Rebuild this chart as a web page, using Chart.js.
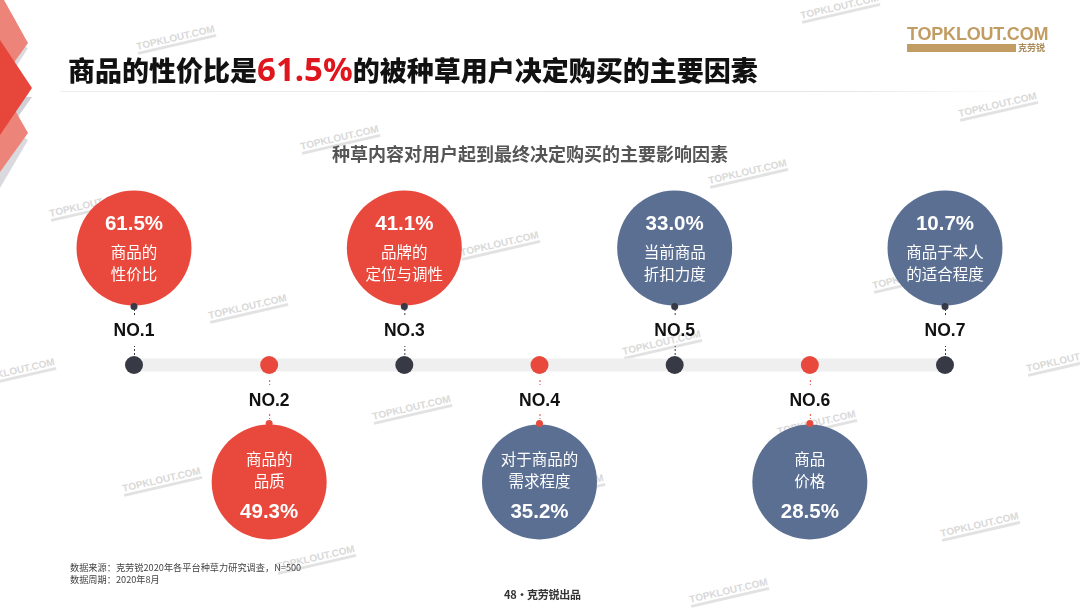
<!DOCTYPE html>
<html lang="zh-CN">
<head>
<meta charset="UTF-8">
<title>种草内容对用户起到最终决定购买的主要影响因素</title>
<script src="https://cdn.jsdelivr.net/npm/chart.js"></script>
<style>
  html, body { margin: 0; padding: 0; background: #fff; }
  #page { position: relative; width: 1080px; height: 608px; overflow: hidden; font-family: "Noto Sans CJK SC", sans-serif; }
  #page canvas { position: absolute; left: 0; top: 0; }
  #deco { position: absolute; left: 0; top: 0; }
  .abs { position: absolute; white-space: nowrap; }
  #title { left: 68px; top: 47px; font-size: 27px; line-height: 44px; font-weight: 900; color: #111; }
  #title b { font-family: "Noto Sans", sans-serif; font-size: 33px; font-weight: 700; color: #e0161e; }
  #rule { left: 60px; top: 91px; width: 960px; height: 1px; background: linear-gradient(to right, #eee, #e4e4e4 80%, #fff); }
  #subtitle { left: 332px; top: 140px; font-size: 18px; line-height: 26px; font-weight: 700; color: #555; }
  #source { left: 70px; top: 561px; font-size: 9.2px; line-height: 12px; color: #444; }
  #pageno { left: 504px; top: 586px; font-size: 11px; line-height: 16px; font-weight: 700; color: #333; letter-spacing: -0.3px; }
  #logo { left: 907px; top: 24px; font-family: "Liberation Sans", sans-serif; font-size: 18px; line-height: 20px; font-weight: 700; color: #c29d63; letter-spacing: -0.2px; }
  #logoBar { left: 907px; top: 44px; width: 109px; height: 8px; background: #c29d63; }
  #logoCn { left: 1018px; top: 43px; font-size: 9px; line-height: 10px; color: #a98a58; font-weight: 700; }
  .wm { position: absolute; transform: rotate(-13deg); font-family: "Liberation Sans", sans-serif; font-size: 10px; line-height: 10px; font-weight: 700; color: #d0d0d0; opacity: .8; border-bottom: 3px solid #dcdcdc; }
</style>
</head>
<body>
<div id="page">
  <svg id="deco" width="70" height="200" viewBox="0 0 70 200">
    <polygon points="0,36 28,48 0,92" fill="#d9d9de"/>
    <polygon points="0,122 28,140 0,188" fill="#d9d9de"/>
    <polygon points="0,95 32,97 0,142" fill="#cfcfd6"/>
    <polygon points="0,0 4,0 28,43 0,82" fill="#ec8479"/>
    <polygon points="0,112 16,112 28,133 0,172" fill="#ec8479"/>
    <polygon points="0,40 32,88 0,135" fill="#e7463a"/>
  </svg>
  <div id="stamps"></div>
  <canvas id="timeline" width="1080" height="608"></canvas>
  <div class="abs" id="title">商品的性价比是<b>61.5%</b>的被种草用户决定购买的主要因素</div>
  <div class="abs" id="rule"></div>
  <div class="abs" id="subtitle">种草内容对用户起到最终决定购买的主要影响因素</div>
  <div class="abs" id="source">数据来源：克劳锐2020年各平台种草力研究调查，N=500<br>数据周期：2020年8月</div>
  <div class="abs" id="pageno">48·克劳锐出品</div>
  <div class="abs" id="logo">TOPKLOUT.COM</div>
  <div class="abs" id="logoBar"></div>
  <div class="abs" id="logoCn">克劳锐</div>
</div>
<script>
  // chart values
  const ranks = [1, 2, 3, 4, 5, 6, 7];
  const rankLabels = ['NO.1', 'NO.2', 'NO.3', 'NO.4', 'NO.5', 'NO.6', 'NO.7'];
  const shares = [61.5, 49.3, 41.1, 35.2, 33.0, 28.5, 10.7];
  const factorLines = [
    ['商品的', '性价比'],
    ['商品的', '品质'],
    ['品牌的', '定位与调性'],
    ['对于商品的', '需求程度'],
    ['当前商品', '折扣力度'],
    ['商品', '价格'],
    ['商品于本人', '的适合程度']
  ];

  const RED = '#e8493c';
  const BLUE = '#5a6f92';
  const DARK = '#373a45';
  const TRACK = '#efefef';

  // odd ranks hang above the track, even ranks below. top three are highlighted red
  const lane = (i) => (ranks[i] % 2 ? -1 : 1);
  const bubbleColors = ranks.map((r) => (r <= 3 ? RED : BLUE));
  const dotColors = ranks.map((r) => (r % 2 ? DARK : RED));

  // text and the little dashes that the scatter points can't do
  const labelsPlugin = {
    id: 'timelineLabels',
    afterDatasetsDraw(chart) {
      const { ctx, scales } = chart;
      const trackY = scales.y.getPixelForValue(0);
      ctx.save();
      ctx.textAlign = 'center';
      ctx.textBaseline = 'middle';
      ranks.forEach((r, i) => {
        const x = scales.x.getPixelForValue(r);
        const dir = lane(i);
        const cy = scales.y.getPixelForValue(dir);

        ctx.strokeStyle = dotColors[i];
        ctx.lineWidth = 1;
        ctx.setLineDash([2, 2]);
        const dashes = dir < 0 ? [[10, 19], [50, 58]] : [[15, 20], [49, 54]];
        dashes.forEach(([a, b]) => {
          ctx.beginPath();
          ctx.moveTo(x + 0.5, trackY + dir * a);
          ctx.lineTo(x + 0.5, trackY + dir * b);
          ctx.stroke();
        });
        ctx.setLineDash([]);

        ctx.fillStyle = '#111';
        ctx.font = 'bold 17.5px "Liberation Sans"';
        ctx.fillText(rankLabels[i], x, trackY + (dir < 0 ? -34 : 36));

        ctx.fillStyle = '#fff';
        const pct = shares[i].toFixed(1) + '%';
        const lines = factorLines[i];
        if (dir < 0) {
          ctx.font = 'bold 20.5px "Liberation Sans"';
          ctx.fillText(pct, x, cy - 24);
          ctx.font = '15.5px "Noto Sans CJK SC"';
          ctx.fillText(lines[0], x, cy + 4);
          ctx.fillText(lines[1], x, cy + 26);
        } else {
          ctx.font = '15.5px "Noto Sans CJK SC"';
          ctx.fillText(lines[0], x, cy - 23);
          ctx.fillText(lines[1], x, cy - 1);
          ctx.font = 'bold 20.5px "Liberation Sans"';
          ctx.fillText(pct, x, cy + 30);
        }
      });
      ctx.restore();
    }
  };

  new Chart(document.getElementById('timeline'), {
    type: 'scatter',
    data: {
      datasets: [
        {
          label: '轨道',
          data: [{ x: ranks[0], y: 0 }, { x: ranks[ranks.length - 1], y: 0 }],
          showLine: true,
          borderColor: TRACK,
          borderWidth: 13,
          pointRadius: 0,
          order: 4
        },
        {
          label: '节点',
          data: ranks.map((r) => ({ x: r, y: 0 })),
          pointRadius: 9,
          pointBackgroundColor: dotColors,
          pointBorderWidth: 0,
          order: 3
        },
        {
          label: '影响因素',
          data: ranks.map((r, i) => ({ x: r, y: lane(i) })),
          pointRadius: 57.5,
          pointBackgroundColor: bubbleColors,
          pointBorderWidth: 0,
          order: 2
        },
        {
          label: '连接点',
          data: ranks.map((r, i) => ({ x: r, y: lane(i) * 0.5 })),
          pointRadius: 3.5,
          pointBackgroundColor: dotColors,
          pointBorderWidth: 0,
          order: 1
        }
      ]
    },
    options: {
      responsive: false,
      animation: false,
      layout: { padding: 0, autoPadding: false },
      plugins: { legend: { display: false }, tooltip: { enabled: false } },
      scales: {
        x: { type: 'linear', display: false, min: 0.0087, max: 7.9987 },
        y: { type: 'linear', display: false, reverse: true, min: -3.12, max: 2.077 }
      }
    },
    plugins: [labelsPlugin]
  });

  // watermark stamps across the slide, they sit behind the chart
  const stamps = [[136, 33], [800, 2], [958, 100], [300, 133], [708, 167], [49, 200], [460, 239],
    [208, 302], [-24, 366], [1026, 355], [622, 338], [372, 403], [122, 475], [777, 418], [525, 482],
    [940, 520], [276, 553], [689, 586], [872, 272]];
  stamps.forEach(([left, top]) => {
    const el = document.createElement('div');
    el.className = 'wm';
    el.textContent = 'TOPKLOUT.COM';
    el.style.left = left + 'px';
    el.style.top = top + 'px';
    document.getElementById('stamps').appendChild(el);
  });
</script>
</body>
</html>
